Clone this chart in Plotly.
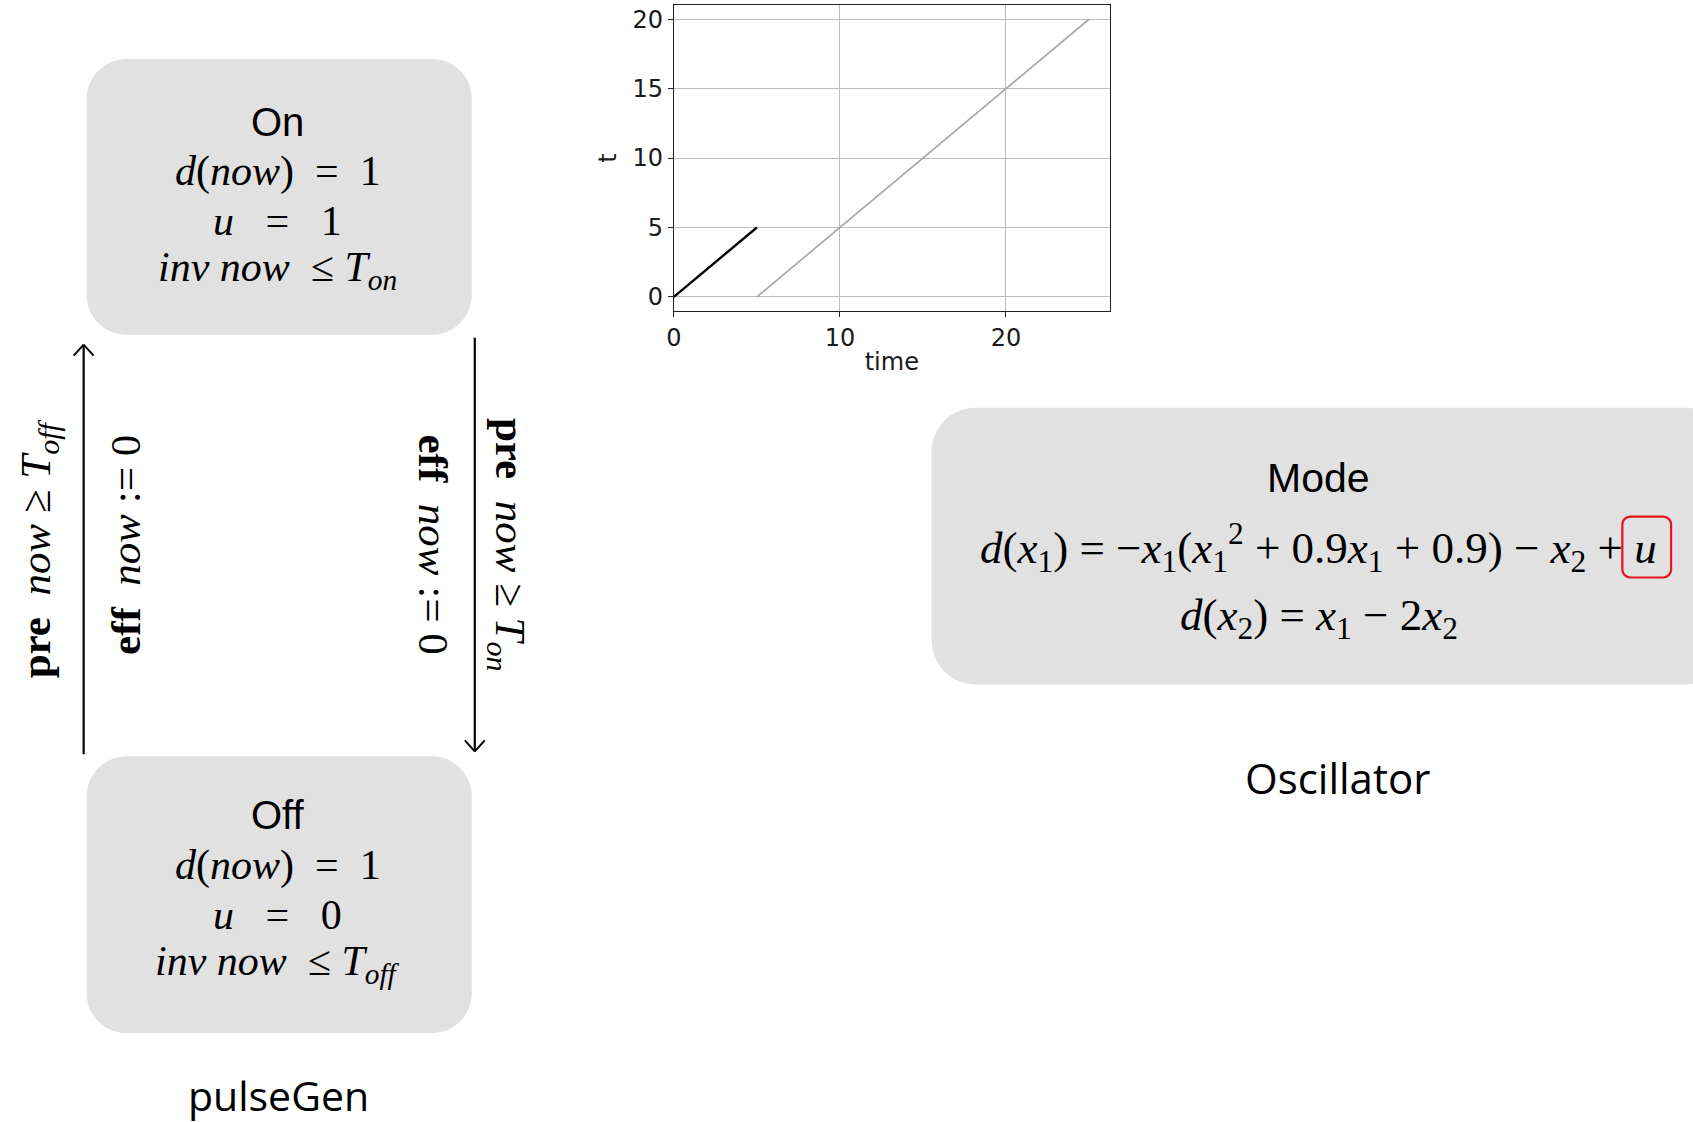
import plotly.graph_objects as go

W, H = 1693, 1122


def X(px):
    return px / W


def Y(py):
    return 1 - py / H


# ---- data of the small chart ----
time_black = [0, 5]
t_black = [0, 5]
time_gray = [5, 25]
t_gray = [0, 20]
x_ticks = [0, 10, 20]
y_ticks = [0, 5, 10, 15, 20]

NB = "\u00a0"

# ---- diagram texts ----
on_lines = ["On",
            f"<i>d</i>(<i>now</i>){NB*2}={NB*2}1",
            f"<i>u</i>{NB*3}={NB*3}1",
            f"<i>inv</i>{NB}<i>now</i>{NB*2}≤{NB}<i>T<sub>on</sub></i>"]
off_lines = ["Off",
             f"<i>d</i>(<i>now</i>){NB*2}={NB*2}1",
             f"<i>u</i>{NB*3}={NB*3}0",
             f"<i>inv</i>{NB}<i>now</i>{NB*2}≤{NB}<i>T<sub>off</sub></i>"]
mode_title = "Mode"
mode_eq1 = ("<i>d</i>(<i>x</i><sub>1</sub>) = −<i>x</i><sub>1</sub>(<i>x</i><sub>1</sub><sup>2</sup> + 0.9<i>x</i><sub>1</sub>"
            " + 0.9) − <i>x</i><sub>2</sub> + <i>u</i>")
mode_eq2 = "<i>d</i>(<i>x</i><sub>2</sub>) = <i>x</i><sub>1</sub> − 2<i>x</i><sub>2</sub>"

fig = go.Figure()
fig.add_trace(go.Scatter(x=time_black, y=t_black, mode="lines",
                         line=dict(color="black", width=2.4), hoverinfo="skip"))
fig.add_trace(go.Scatter(x=time_gray, y=t_gray, mode="lines",
                         line=dict(color="#a8a8a8", width=1.7), hoverinfo="skip"))

axis_font = dict(family="DejaVu Sans", size=24, color="#1a1a1a")
fig.update_xaxes(domain=[X(669), X(1107)], range=[0, 26.25], tickvals=x_ticks,
                 showgrid=True, gridcolor="#bdbdbd", gridwidth=1, zeroline=False,
                 showline=True, linecolor="#222", linewidth=1.2, mirror=True,
                 ticks="outside", ticklen=5, tickcolor="#222", tickfont=axis_font,
                 title=dict(text="time", font=axis_font, standoff=2))
fig.update_yaxes(domain=[Y(311), Y(5.4)], range=[-1, 21], tickvals=y_ticks,
                 showgrid=True, gridcolor="#bdbdbd", gridwidth=1, zeroline=False,
                 showline=True, linecolor="#222", linewidth=1.2, mirror=True,
                 ticks="outside", ticklen=5, tickcolor="#222", tickfont=axis_font,
                 title=dict(text="t", font=axis_font, standoff=8))


def rrect_path(x0, y0, x1, y1, r):
    k = 0.5523 * r
    pts = [
        f"M {X(x0 + r)},{Y(y0)}",
        f"L {X(x1 - r)},{Y(y0)}",
        f"C {X(x1 - r + k)},{Y(y0)} {X(x1)},{Y(y0 + r - k)} {X(x1)},{Y(y0 + r)}",
        f"L {X(x1)},{Y(y1 - r)}",
        f"C {X(x1)},{Y(y1 - r + k)} {X(x1 - r + k)},{Y(y1)} {X(x1 - r)},{Y(y1)}",
        f"L {X(x0 + r)},{Y(y1)}",
        f"C {X(x0 + r - k)},{Y(y1)} {X(x0)},{Y(y1 - r + k)} {X(x0)},{Y(y1 - r)}",
        f"L {X(x0)},{Y(y0 + r)}",
        f"C {X(x0)},{Y(y0 + r - k)} {X(x0 + r - k)},{Y(y0)} {X(x0 + r)},{Y(y0)}",
        "Z",
    ]
    return " ".join(pts)


shapes = []
box_fill = "#e1e1e1"
for (x0, y0, x1, y1, r) in [(79, 59, 466, 335, 40), (79, 757, 466, 1034, 40), (928, 408, 1730, 685, 44)]:
    shapes.append(dict(type="path", path=rrect_path(x0, y0, x1, y1, r), xref="paper", yref="paper",
                       fillcolor=box_fill, line=dict(width=0), layer="below"))

# red highlight box around u
shapes.append(dict(type="path", path=rrect_path(1622, 517, 1671, 578, 8), xref="paper", yref="paper",
                   fillcolor="rgba(0,0,0,0)", line=dict(color="#e8121a", width=2.2)))


def line(x0, y0, x1, y1, w=2.2):
    shapes.append(dict(type="line", x0=X(x0), y0=Y(y0), x1=X(x1), y1=Y(y1), xref="paper", yref="paper",
                       line=dict(color="black", width=w)))


# left arrow (up)
line(76, 755, 76, 345)
line(76, 345, 66, 356, 2)
line(76, 345, 86, 356, 2)
# right arrow (down)
line(469, 338, 469, 752)
line(469, 752, 459, 741, 2)
line(469, 752, 479, 741, 2)

fig.update_layout(shapes=shapes)

ann = []
sans = "Liberation Sans"
serif = "Liberation Serif"


def text(t, x, y, family, size, angle=0, color="black", xanchor="center"):
    ann.append(dict(text=t, x=X(x), y=Y(y), xref="paper", yref="paper", xanchor=xanchor, yanchor="middle",
                    showarrow=False, textangle=angle, borderpad=0,
                    font=dict(family=family, size=size, color=color)))


for t, yy, fam, sz in zip(on_lines, [122, 172, 221, 270], [sans, serif, serif, serif], [40, 42, 42, 42]):
    text(t, 271, yy, fam, sz)
for t, yy, fam, sz in zip(off_lines, [816, 866, 916, 965], [sans, serif, serif, serif], [40, 42, 42, 42]):
    text(t, 271, yy, fam, sz)

text("pulseGen", 272, 1096, "Open Sans", 41)

text(f"<b>pre</b>{NB*2}<i>now</i>{NB}≥{NB}<i>T<sub>off</sub></i>", 31, 549, serif, 43, -90)
text(f"<b>eff</b>{NB*2}<i>now</i>{NB}:={NB}0", 118, 545, serif, 43, -90)
text(f"<b>pre</b>{NB*2}<i>now</i>{NB}≥{NB}<i>T<sub>on</sub></i>", 502, 545, serif, 43, 90)
text(f"<b>eff</b>{NB*2}<i>now</i>{NB}:={NB}0", 428, 545, serif, 43, 90)

text(mode_title, 1317, 478, sans, 41)
text(mode_eq1, 1658, 548, serif, 45, xanchor="right")
text(mode_eq2, 1317, 619, serif, 45)

text("Oscillator", 1336, 778, "Open Sans", 42)

fig.update_layout(annotations=ann, width=W, height=H, margin=dict(l=0, r=0, t=0, b=0),
                  paper_bgcolor="white", plot_bgcolor="white", showlegend=False)

fig.write_html("out.html", config={"displayModeBar": False},
               post_script="document.body.style.margin='0';document.body.style.overflow='hidden';")
